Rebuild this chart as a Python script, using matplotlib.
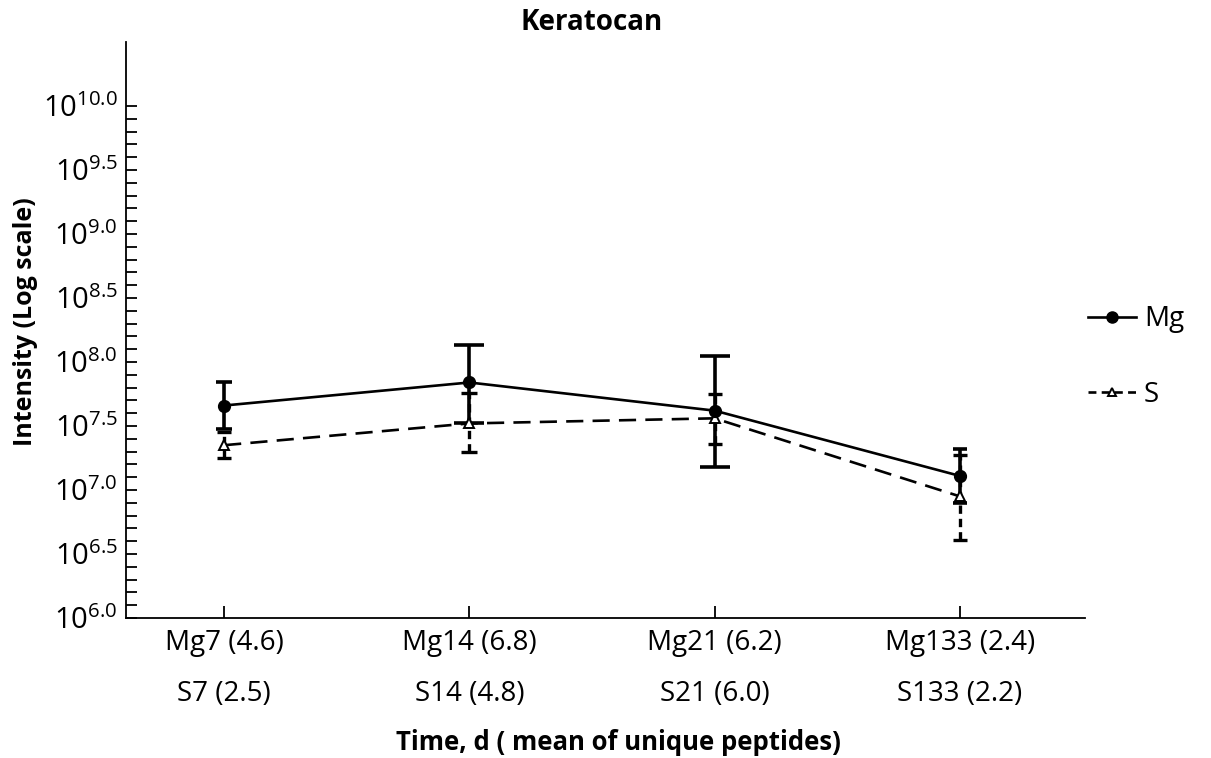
import numpy as np
import matplotlib
matplotlib.use("Agg")
import matplotlib.pyplot as plt
from matplotlib.ticker import FixedLocator, FuncFormatter
from matplotlib.lines import Line2D

plt.rcParams['font.family'] = ['Open Sans', 'DejaVu Sans']
plt.rcParams['mathtext.fontset'] = 'custom'
plt.rcParams['mathtext.rm'] = 'Open Sans'
plt.rcParams['mathtext.it'] = 'Open Sans'
plt.rcParams['mathtext.bf'] = 'Open Sans:bold'

# Time points with mean number of unique peptides
categories = ["Mg7 (4.6)\nS7 (2.5)", "Mg14 (6.8)\nS14 (4.8)",
              "Mg21 (6.2)\nS21 (6.0)", "Mg133 (2.4)\nS133 (2.2)"]

# Intensities as log10 exponents
mg_log = [7.66, 7.84, 7.62, 7.11]
mg_upper_log = [7.84, 8.13, 8.05, 7.32]
mg_lower_log = [7.48, 7.52, 7.18, 6.90]

s_log = [7.35, 7.52, 7.56, 6.95]
s_upper_log = [7.45, 7.76, 7.75, 7.27]
s_lower_log = [7.25, 7.30, 7.36, 6.61]

mg_capsizes = [6, 11, 11, 5]
s_capsizes = [5, 6, 5, 5]

ytick_exponents = [6.0, 6.5, 7.0, 7.5, 8.0, 8.5, 9.0, 9.5, 10.0]

x = np.arange(len(categories))
mg = 10 ** np.array(mg_log)
s = 10 ** np.array(s_log)
mg_err = [mg - 10 ** np.array(mg_lower_log), 10 ** np.array(mg_upper_log) - mg]
s_err = [s - 10 ** np.array(s_lower_log), 10 ** np.array(s_upper_log) - s]

fig = plt.figure(figsize=(12.11, 7.58), dpi=100)
ax = fig.add_axes([126 / 1211, 1 - 618 / 758, (1085 - 126) / 1211, (618 - 42) / 758])

# S series: dashed line, open triangles, dashed error bars
ax.plot(x, s, linestyle=(0, (6.5, 3.5)), color='black', linewidth=1.9, zorder=3)
for i in range(len(x)):
    eb = ax.errorbar(x[i], s[i], yerr=[[s_err[0][i]], [s_err[1][i]]], fmt='none',
                     ecolor='black', elinewidth=2.4, capsize=s_capsizes[i],
                     capthick=2.4, zorder=3)
    eb[2][0].set_linestyle((0, (2.5, 1.5)))
ax.plot(x, s, linestyle='none', marker='^', markersize=7, markerfacecolor='white',
        markeredgecolor='black', markeredgewidth=1.4, zorder=5)

# Mg series: solid line, filled circles
ax.plot(x, mg, linestyle='-', color='black', linewidth=1.9, zorder=4)
for i in range(len(x)):
    ax.errorbar(x[i], mg[i], yerr=[[mg_err[0][i]], [mg_err[1][i]]], fmt='none',
                ecolor='black', elinewidth=2.6, capsize=mg_capsizes[i],
                capthick=2.6, zorder=4)
ax.plot(x, mg, linestyle='none', marker='o', markersize=8.5, color='black', zorder=6)

ax.set_yscale('log')
ax.set_ylim(1e6, 10 ** 10.5)
ax.set_xlim(-0.4, 3.51)

ax.yaxis.set_major_locator(FixedLocator([10 ** e for e in ytick_exponents]))
minor = [10 ** (6 + k / 10) for k in range(0, 41) if k % 5 != 0]
ax.yaxis.set_minor_locator(FixedLocator(minor))
ax.yaxis.set_major_formatter(FuncFormatter(
    lambda v, p: r'$\mathregular{10^{%.1f}}$' % np.log10(v)))
ax.yaxis.set_minor_formatter(FuncFormatter(lambda v, p: ''))

ax.set_xticks(x)
ax.set_xticklabels(categories, linespacing=2.1)

ax.tick_params(axis='y', which='both', direction='in', length=8, width=1.3,
               labelsize=21, pad=6)
ax.tick_params(axis='x', which='both', direction='in', length=9, width=1.3,
               labelsize=20, pad=8)

for side in ('top', 'right'):
    ax.spines[side].set_visible(False)
for side in ('left', 'bottom'):
    ax.spines[side].set_linewidth(1.3)

fig.text(592 / 1211, 1 - 22 / 758, 'Keratocan', ha='center', va='center',
         fontsize=20, fontweight='bold')
fig.text(26 / 1211, 1 - 322 / 758, 'Intensity (Log scale)', ha='center', va='center',
         rotation=90, fontsize=18, fontweight='bold')
fig.text(618 / 1211, 1 - 742 / 758, 'Time, d ( mean of unique peptides)',
         ha='center', va='center', fontsize=18.5, fontweight='bold')

handles = [
    Line2D([], [], color='black', linestyle='-', linewidth=1.9, marker='o', markersize=8),
    Line2D([], [], color='black', linestyle=(0, (3, 2)), linewidth=1.9, marker='^',
           markersize=6, markerfacecolor='white', markeredgewidth=1.4),
]
fig.legend(handles, ['Mg', 'S'], loc='center left',
           bbox_to_anchor=(1069 / 1211, 1 - 357 / 758), frameon=False,
           fontsize=20, handlelength=1.7, labelspacing=1.7, handletextpad=0.3,
           borderpad=0.2)

fig.savefig('out.png', dpi=100)
